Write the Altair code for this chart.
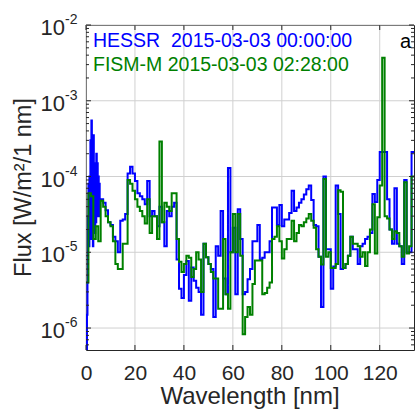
import altair as alt
import pandas as pd

# ---------------- data ----------------
# HESSR fine-resolution part (0-6 nm, 0.2 nm bins)
hessr_fine_wl = [0.0, 0.2, 0.4, 0.6, 0.8, 1.0, 1.2, 1.4, 1.6, 1.8,
                 2.0, 2.2, 2.4, 2.6, 2.8, 3.0, 3.2, 3.4, 3.6, 3.8,
                 4.0, 4.2, 4.4, 4.6, 4.8, 5.0, 5.2, 5.4, 5.6, 5.8]
hessr_fine = [3e-7, 5e-7, 1.5e-6, 4e-6, 3e-5, 8e-5, 1.2e-5, 1e-4, 2e-5, 3e-4,
              1.5e-5, 5.5e-4, 2e-5, 2.5e-4, 1.2e-5, 3.5e-4, 2e-5, 1.5e-4, 1.8e-5, 1.2e-4,
              2.5e-5, 2e-4, 3e-5, 1.5e-4, 4e-5, 1e-4, 3e-5, 8e-5, 4e-5, 5e-5]

# HESSR 1-nm bins starting at 6 nm
hessr_wl = list(range(6, 135))
hessr = [5e-5, 4.5e-5, 3.6e-5, 2.5e-5, 2.3e-5, 1.6e-5, 1.4e-5, 1e-5, 2.6e-5, 2.7e-5,   # 6-15
         3.2e-5, 1.1e-4, 1.35e-4, 1.1e-4, 8.7e-5, 6e-5, 5.5e-5, 5e-5, 4.3e-5, 8.7e-5,  # 16-25
         3e-5, 3.5e-5, 3e-5, 2.2e-5, 4e-5, 2.5e-5, 1.2e-5, 3.5e-5, 3e-5, 4e-5,         # 26-35
         4.5e-5, 8e-6, 3.3e-6, 2.5e-6, 5e-6, 7.7e-6, 2.3e-6, 6.3e-6, 4.2e-6, 3.4e-6,   # 36-45
         3e-6, 1.5e-6, 1.3e-5, 8.6e-6, 7e-6, 6e-6, 1.4e-6, 1.2e-5, 9e-6, 3.5e-5,       # 46-55
         4.5e-6, 2.8e-6, 1.3e-4, 1e-5, 2.1e-5, 2.8e-6, 3.7e-5, 1.5e-5, 2.8e-6, 3e-6,   # 56-65
         4.4e-6, 6e-6, 1.4e-5, 1.4e-5, 2.3e-5, 8e-6, 8.5e-6, 1e-5, 1e-5, 1.4e-5,       # 66-75
         3.9e-5, 3.9e-5, 2.3e-5, 4.2e-5, 2.2e-5, 2.7e-5, 2.7e-5, 3.3e-5, 6.5e-5, 3.5e-5,  # 76-85
         3.9e-5, 4.5e-5, 5e-5, 5.8e-5, 6.8e-5, 7.6e-5, 4.9e-5, 2.3e-5, 2.2e-5, 8.7e-6,    # 86-95
         1.9e-6, 1e-4, 1.1e-5, 1.1e-5, 3.3e-6, 6.5e-6, 7.6e-5, 3.2e-5, 6e-6, 6.2e-6,      # 96-105
         7e-6, 9e-6, 1.6e-5, 1.1e-5, 1.1e-5, 7e-6, 1.2e-5, 1.3e-5, 1.5e-5, 1.6e-5,       # 106-115
         1.8e-5, 5.9e-5, 4.6e-5, 9e-5, 2.1e-4, 2.1e-4, 2.1e-4, 5e-5, 2e-5, 1.3e-5,       # 116-125
         7e-5, 1.3e-5, 1.2e-5, 7e-6, 9e-5, 1e-5, 1e-5, 2.1e-4, 2.1e-4]                   # 126-134

# FISM-M 1-nm bins from 0 nm
fism_wl = list(range(0, 135))
fism = [4e-6, 6e-5, 5.5e-5, 1.5e-5, 2.2e-5, 1.4e-5, 4.8e-5, 4e-5, 3e-5, 2.5e-5,          # 0-9
        2.2e-5, 1.4e-5, 7e-6, 6e-6, 6e-6, 1.3e-5, 1.3e-5, 9e-5, 8e-5, 6.5e-5,            # 10-19
        5e-5, 4e-5, 3.5e-5, 3e-5, 2.4e-5, 5e-5, 1.8e-5, 3e-5, 3e-5, 1.5e-5,              # 20-29
        2.9e-4, 2.5e-5, 4.5e-5, 4e-5, 3.5e-5, 6e-5, 6e-5, 1.5e-5, 7.5e-6, 5.5e-6,        # 30-39
        7e-6, 9e-6, 8.5e-6, 4.7e-6, 6e-6, 1e-5, 8e-6, 3e-6, 1.3e-5, 8.6e-6,              # 40-49
        7e-6, 5.5e-6, 4.5e-6, 4.5e-6, 1.8e-6, 1.8e-6, 1.5e-5, 2.8e-6, 1.8e-6, 1e-5,      # 50-59
        3.2e-5, 1e-5, 3.2e-5, 9e-6, 8.3e-7, 1.4e-6, 1.9e-6, 1.5e-6, 3.8e-6, 7.8e-6,      # 60-69
        7.8e-6, 7.8e-6, 2.8e-6, 2.9e-6, 3.4e-6, 4e-6, 1.5e-5, 1.6e-5, 2.2e-5, 1.4e-5,    # 70-79
        8.3e-6, 1.1e-5, 1.5e-5, 1.5e-5, 2.6e-5, 1.4e-5, 1.8e-5, 2.3e-5, 2.2e-5, 2.5e-5,  # 80-89
        2.8e-5, 3.2e-5, 2.6e-5, 2.1e-5, 1.1e-5, 8.7e-6, 6.9e-6, 9.3e-5, 8.7e-6, 1e-5,    # 90-99
        6.2e-6, 6.2e-6, 7e-6, 6.6e-5, 6.3e-5, 6.2e-6, 7e-6, 9e-6, 1.6e-5, 1.3e-5,        # 100-109
        1.3e-5, 1.2e-5, 8.7e-6, 1e-5, 6.6e-6, 1e-5, 2e-5, 4.3e-5, 9.6e-6, 2.9e-5,        # 110-119
        7.6e-5, 3.7e-3, 3e-5, 2.8e-5, 2e-5, 1.5e-5, 1.9e-5, 1.8e-5, 1.2e-5, 8.7e-6,      # 120-129
        8.4e-5, 9.6e-6, 1.2e-5, 1e-4, 1e-4]                                              # 130-134

bin_end = 135

x_major = [0, 20, 40, 60, 80, 100, 120]
y_major = [1e-6, 1e-5, 1e-4, 1e-3, 1e-2]
y_exp = ["-6", "-5", "-4", "-3", "-2"]
y_minor = [m * 10.0 ** e for e in range(-7, -2) for m in range(2, 10)
           if 5.13e-7 <= m * 10.0 ** e <= 1e-2]

label_hessr = "HESSR\u00a0 2015-03-03 00:00:00"
label_fism = "FISM-M 2015-03-03 02:28:00"
x_title = "Wavelength [nm]"
y_title = "Flux [W/m\u00b2/1 nm]"
panel_tag = "a"

# ---------------- tables ----------------
blue_df = pd.DataFrame({
    "wl": hessr_fine_wl + hessr_wl + [bin_end],
    "flux": hessr_fine + hessr + [hessr[-1]],
})
green_df = pd.DataFrame({
    "wl": fism_wl + [bin_end],
    "flux": fism + [fism[-1]],
})
ymaj_df = pd.DataFrame({"flux": y_major, "base": ["10"] * len(y_major), "exp": y_exp})
ymin_df = pd.DataFrame({"flux": y_minor})
xmaj_df = pd.DataFrame({"wl": x_major})

W, H = 328, 325
FONT = "Liberation Sans"
AX = "#262626"
BLUE = "#0000ff"
GREEN = "#008000"
GRID = "#d0d0d0"

xs = alt.Scale(domain=[0, 134], nice=False, zero=False)
ys = alt.Scale(type="log", domain=[5.13e-7, 1e-2], nice=False)

x_axis = alt.Axis(values=x_major, grid=False, ticks=False, tickSize=0, domain=False,
                  labelFont=FONT, labelFontSize=21, labelColor=AX,
                  labelPadding=12, title=None, labelFlush=False)
y_axis = alt.Axis(values=y_major, grid=False, ticks=False, tickSize=0,
                  domain=False, labels=False, title=None)


def X(field="wl"):
    return alt.X(f"{field}:Q", scale=xs, axis=x_axis)


def Y(field="flux"):
    return alt.Y(f"{field}:Q", scale=ys, axis=y_axis)


# grid lines (full-span rules)
grid_x = alt.Chart(xmaj_df).mark_rule(color=GRID, strokeWidth=1).encode(x=X())
grid_y = alt.Chart(ymaj_df).mark_rule(color=GRID, strokeWidth=1).encode(y=Y())

blue_line = alt.Chart(blue_df).mark_line(
    interpolate="step-after", color=BLUE, strokeWidth=2, clip=True
).encode(x=X(), y=Y())

green_line = alt.Chart(green_df).mark_line(
    interpolate="step-after", color=GREEN, strokeWidth=2, clip=True
).encode(x=X(), y=Y())


# inward ticks (MATLAB style, both sides)
def yticks(df, length):
    left = alt.Chart(df).mark_rule(color=AX, strokeWidth=1).encode(
        y=Y(), x=alt.value(0), x2=alt.value(length))
    right = alt.Chart(df).mark_rule(color=AX, strokeWidth=1).encode(
        y=Y(), x=alt.value(W), x2=alt.value(W - length))
    return [left, right]


xtick_bottom = alt.Chart(xmaj_df).mark_rule(color=AX, strokeWidth=1).encode(
    x=X(), y=alt.value(H), y2=alt.value(H - 5))
xtick_top = alt.Chart(xmaj_df).mark_rule(color=AX, strokeWidth=1).encode(
    x=X(), y=alt.value(0), y2=alt.value(5))

ylab_base = alt.Chart(ymaj_df).mark_text(
    align="right", baseline="middle", dy=3, font=FONT, fontSize=22, color=AX
).encode(y=Y(), x=alt.value(-21), text="base:N")
ylab_exp = alt.Chart(ymaj_df).mark_text(
    align="left", baseline="middle", dy=-5, font=FONT, fontSize=14, color=AX
).encode(y=Y(), x=alt.value(-21), text="exp:N")


def note(txt, x, y, color, size, align="left", angle=None):
    kw = dict(align=align, baseline="alphabetic", font=FONT, fontSize=size, color=color)
    if angle is not None:
        kw["angle"] = angle
    return alt.Chart(pd.DataFrame({"t": [txt]})).mark_text(**kw).encode(
        text="t:N", x=alt.value(x), y=alt.value(y))


t_hessr = note(label_hessr, 7, 22, BLUE, 19.5)
t_fism = note(label_fism, 7, 46, GREEN, 19.5)
t_tag = note(panel_tag, 325, 23, "#000000", 20, align="right")
t_x = note(x_title, W / 2, 379, AX, 24, align="center")
t_y = note(y_title, -55, H / 2, AX, 23.5, align="center", angle=270)

chart = alt.layer(
    grid_x, grid_y,
    blue_line, green_line,
    *yticks(ymaj_df, 5), *yticks(ymin_df, 3),
    xtick_bottom, xtick_top,
    ylab_base, ylab_exp,
    t_hessr, t_fism, t_tag, t_x, t_y,
).properties(
    width=W, height=H,
    autosize=alt.AutoSizeParams(type="none"),
    padding={"left": 86, "top": 25, "right": 1, "bottom": 68},
    background="white",
).configure_view(stroke=AX, strokeWidth=1)

chart.save("out.html", embed_options={"renderer": "svg", "actions": False})
